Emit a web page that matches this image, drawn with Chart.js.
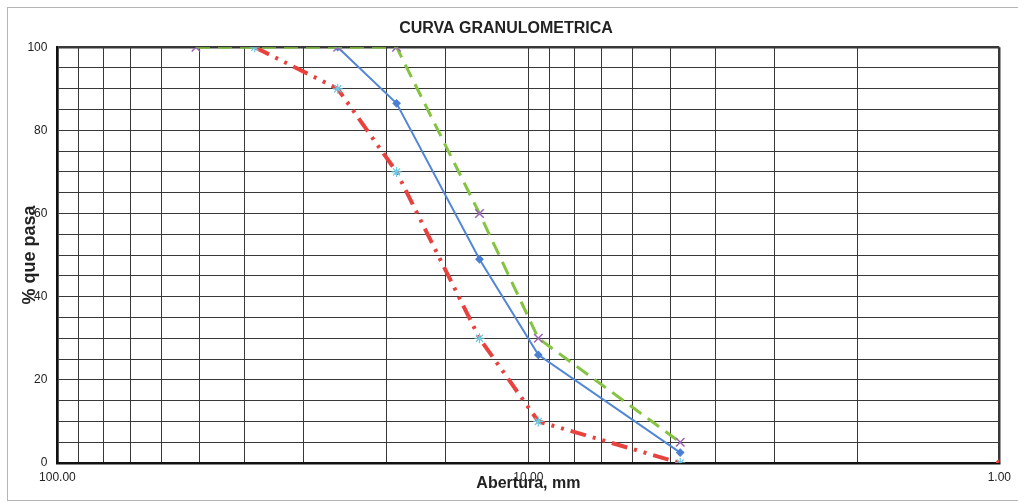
<!DOCTYPE html>
<html>
<head>
<meta charset="utf-8">
<script src="https://cdn.jsdelivr.net/npm/chart.js@4"></script>
<style>
  body { margin: 0; background: #fff; }
  #wrap { position: relative; width: 1018px; height: 503px; }
  #frame { position: absolute; left: 7px; top: 7px; width: 1020px; height: 494px; border: 1px solid #b5b5b5; box-sizing: border-box; }
  canvas { position: absolute; left: 0; top: 0; }
</style>
</head>
<body>
<div id="wrap">
  <div id="frame"></div>
  <canvas id="myChart" width="1018" height="503"></canvas>
</div>
<script>
// sieve openings (mm) and % passing
var aberturas = [50.8, 38.1, 25.4, 19.05, 12.7, 9.525, 4.76]
var muestra   = [null, null, 100, 86.5, 49, 26, 2.5]
var limiteSup = [100, null, 100, 100, 60, 30, 5]
var limiteInf = [null, 100, 90, 70, 30, 10, 0]
var puntoFinal = [{x: 1, y: 0}]
var xLabels = {100: '100.00', 10: '10.00', 1: '1.00'}

function toPoints(values){
    var pts = []
    for(var i = 0; i < aberturas.length; i++) {
        if(values[i] !== null) pts.push({x: aberturas[i], y: values[i]})
    }
    return pts
}

var font = 'Liberation Sans, Arial, sans-serif'
var ctx = document.getElementById('myChart').getContext('2d');
var chart = new Chart(ctx, {
    type: 'scatter',
    data: {
        datasets: [{
            label: 'Limite inferior',
            data: toPoints(limiteInf),
            showLine: true,
            borderColor: '#e8423e',
            borderWidth: 4,
            borderDash: [16, 7, 3, 7, 3, 7],
            pointStyle: 'star',
            pointRadius: 5,
            pointBorderColor: '#6cc9e2',
            pointBackgroundColor: '#6cc9e2',
            pointBorderWidth: 1.2
        }, {
            label: 'Limite superior',
            data: toPoints(limiteSup),
            showLine: true,
            borderColor: '#84c440',
            borderWidth: 3,
            borderDash: [14, 8],
            pointStyle: 'crossRot',
            pointRadius: 6,
            pointBorderColor: '#9a63b5',
            pointBorderWidth: 1.5
        }, {
            label: 'Muestra',
            data: toPoints(muestra),
            showLine: true,
            borderColor: '#5287d8',
            borderWidth: 2,
            pointStyle: 'rectRot',
            pointRadius: 3,
            pointBorderColor: '#4a7fd4',
            pointBackgroundColor: '#4a7fd4'
        }, {
            label: 'fin',
            data: puntoFinal,
            showLine: false,
            pointRadius: 3,
            pointBorderColor: '#e8423e',
            pointBackgroundColor: '#e8423e'
        }]
    },
    options: {
        responsive: false,
        animation: false,
        layout: {padding: {top: 6, left: 12, right: 18, bottom: 10}},
        plugins: {
            legend: {display: false},
            tooltip: {enabled: false},
            title: {
                display: true,
                text: 'CURVA GRANULOMETRICA',
                color: '#222',
                font: {family: font, size: 16, weight: 'bold'},
                padding: {top: 13, bottom: 9}
            }
        },
        scales: {
            x: {
                type: 'logarithmic',
                reverse: true,
                min: 1,
                max: 100,
                grid: {
                    drawTicks: false,
                    color: '#383838',
                    lineWidth: function(c){ return (c.tick && (c.tick.value === 1 || c.tick.value === 100)) ? 2.5 : 1 }
                },
                border: {display: true, color: '#111', width: 2.5},
                ticks: {
                    autoSkip: false,
                    maxRotation: 0,
                    padding: 7,
                    color: '#222',
                    font: {family: font, size: 12},
                    callback: function(value){ return xLabels[Math.round(value * 1000) / 1000] || '' }
                },
                title: {
                    display: true,
                    text: 'Abertura, mm',
                    color: '#222',
                    font: {family: font, size: 16, weight: 'bold'},
                    padding: {top: -17.6, bottom: 0}
                }
            },
            y: {
                min: 0,
                max: 100,
                grid: {
                    drawTicks: false,
                    color: '#383838',
                    lineWidth: function(c){ return (c.tick && c.tick.value === 100) ? 2.5 : 1 }
                },
                border: {display: true, color: '#111', width: 2.5},
                ticks: {
                    stepSize: 5,
                    autoSkip: false,
                    padding: 10,
                    color: '#222',
                    font: {family: font, size: 12},
                    callback: function(value){ return value % 20 === 0 ? value : '' }
                },
                title: {
                    display: true,
                    text: '% que pasa',
                    color: '#222',
                    font: {family: font, size: 18, weight: 'bold'},
                    padding: {top: 7.5, bottom: -23.7}
                }
            }
        }
    }
});
</script>
</body>
</html>
